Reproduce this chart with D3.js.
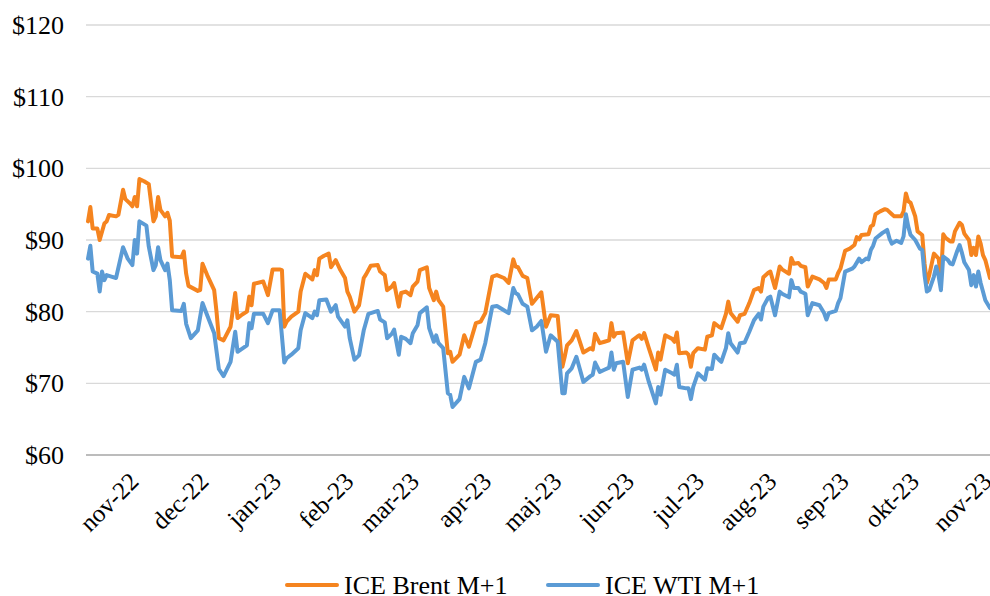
<!DOCTYPE html>
<html>
<head>
<meta charset="utf-8">
<script src="https://cdn.jsdelivr.net/npm/d3@7"></script>
<style>
    body { margin: 0; background: #fff; }
</style>
</head>
<body>
<svg id="chart" width="990" height="596"></svg>
<script>
// Daily closes (M+1) at its turning points
const brent = [
    ["2022-10-11", 92.6], ["2022-10-12", 94.6], ["2022-10-13", 91.6], ["2022-10-15", 91.6], ["2022-10-16", 90.0],
    ["2022-10-18", 92.3], ["2022-10-19", 92.6], ["2022-10-20", 93.5], ["2022-10-23", 93.3], ["2022-10-24", 93.5],
    ["2022-10-26", 97.0], ["2022-10-27", 95.7], ["2022-10-29", 95.1], ["2022-10-30", 94.7], ["2022-10-31", 96.0],
    ["2022-11-01", 94.7], ["2022-11-02", 98.5], ["2022-11-04", 98.2], ["2022-11-06", 97.8], ["2022-11-08", 92.6],
    ["2022-11-09", 93.3], ["2022-11-10", 96.0], ["2022-11-11", 94.2], ["2022-11-13", 93.3], ["2022-11-14", 93.8],
    ["2022-11-15", 92.7], ["2022-11-16", 87.7], ["2022-11-20", 87.6], ["2022-11-21", 88.4], ["2022-11-22", 85.3],
    ["2022-11-23", 83.6], ["2022-11-27", 82.9], ["2022-11-28", 83.0], ["2022-11-29", 86.7], ["2022-12-01", 85.1],
    ["2022-12-04", 83.0], ["2022-12-05", 80.0], ["2022-12-06", 76.3], ["2022-12-08", 76.0], ["2022-12-11", 77.9],
    ["2022-12-13", 82.6], ["2022-12-14", 79.1], ["2022-12-16", 79.6], ["2022-12-18", 80.0], ["2022-12-19", 82.1],
    ["2022-12-20", 80.9], ["2022-12-21", 83.9], ["2022-12-25", 84.2], ["2022-12-27", 82.3], ["2022-12-29", 85.9],
    ["2023-01-01", 85.9], ["2023-01-02", 85.8], ["2023-01-03", 77.9], ["2023-01-04", 78.6], ["2023-01-06", 79.3],
    ["2023-01-09", 80.0], ["2023-01-10", 82.8], ["2023-01-12", 85.3], ["2023-01-15", 84.5], ["2023-01-16", 85.8],
    ["2023-01-17", 85.1], ["2023-01-18", 87.4], ["2023-01-20", 87.8], ["2023-01-22", 88.1], ["2023-01-23", 86.2],
    ["2023-01-25", 87.2], ["2023-01-27", 85.8], ["2023-01-29", 84.7], ["2023-01-30", 82.8], ["2023-01-31", 82.1],
    ["2023-02-02", 80.0], ["2023-02-04", 80.9], ["2023-02-06", 84.7], ["2023-02-07", 85.2], ["2023-02-09", 86.4],
    ["2023-02-12", 86.5], ["2023-02-13", 85.6], ["2023-02-15", 85.1], ["2023-02-16", 83.0], ["2023-02-18", 83.5],
    ["2023-02-19", 84.0], ["2023-02-21", 80.7], ["2023-02-22", 82.6], ["2023-02-24", 82.8], ["2023-02-26", 82.3],
    ["2023-02-27", 83.5], ["2023-03-01", 84.2], ["2023-03-02", 85.8], ["2023-03-05", 86.2], ["2023-03-06", 83.3],
    ["2023-03-08", 81.6], ["2023-03-09", 82.8], ["2023-03-10", 81.6], ["2023-03-12", 80.7], ["2023-03-14", 74.2],
    ["2023-03-15", 74.4], ["2023-03-16", 73.0], ["2023-03-19", 74.0], ["2023-03-21", 76.7], ["2023-03-23", 75.1],
    ["2023-03-26", 78.4], ["2023-03-28", 78.6], ["2023-03-30", 79.8], ["2023-04-02", 84.9], ["2023-04-04", 85.1],
    ["2023-04-07", 84.7], ["2023-04-09", 84.0], ["2023-04-11", 87.3], ["2023-04-12", 86.3], ["2023-04-13", 86.2],
    ["2023-04-15", 85.0], ["2023-04-17", 84.7], ["2023-04-19", 81.1], ["2023-04-21", 81.9], ["2023-04-23", 82.7],
    ["2023-04-25", 77.9], ["2023-04-27", 79.5], ["2023-04-30", 79.4], ["2023-05-02", 72.3], ["2023-05-03", 73.7],
    ["2023-05-04", 75.3], ["2023-05-06", 76.0], ["2023-05-08", 77.3], ["2023-05-11", 74.3], ["2023-05-14", 74.9],
    ["2023-05-15", 74.7], ["2023-05-16", 76.9], ["2023-05-18", 75.6], ["2023-05-20", 75.8], ["2023-05-22", 76.0],
    ["2023-05-23", 78.4], ["2023-05-24", 76.5], ["2023-05-25", 77.0], ["2023-05-28", 77.1], ["2023-05-30", 72.8],
    ["2023-06-01", 76.0], ["2023-06-03", 76.5], ["2023-06-04", 76.7], ["2023-06-05", 76.2], ["2023-06-06", 77.0],
    ["2023-06-08", 74.9], ["2023-06-11", 71.9], ["2023-06-12", 74.3], ["2023-06-13", 73.3], ["2023-06-15", 76.7],
    ["2023-06-18", 76.2], ["2023-06-19", 75.8], ["2023-06-20", 77.1], ["2023-06-21", 74.2], ["2023-06-24", 74.3],
    ["2023-06-25", 74.0], ["2023-06-26", 72.3], ["2023-06-27", 74.2], ["2023-06-29", 74.9], ["2023-07-02", 74.7],
    ["2023-07-03", 76.5], ["2023-07-05", 76.7], ["2023-07-06", 78.4], ["2023-07-08", 77.9], ["2023-07-09", 77.7],
    ["2023-07-11", 79.7], ["2023-07-12", 81.4], ["2023-07-13", 79.8], ["2023-07-16", 78.6], ["2023-07-17", 79.5],
    ["2023-07-19", 79.7], ["2023-07-21", 81.2], ["2023-07-23", 83.0], ["2023-07-25", 83.3], ["2023-07-26", 82.8],
    ["2023-07-27", 84.8], ["2023-07-29", 85.4], ["2023-07-30", 85.6], ["2023-08-01", 83.3], ["2023-08-03", 86.3],
    ["2023-08-04", 85.9], ["2023-08-07", 85.3], ["2023-08-08", 87.5], ["2023-08-09", 86.7], ["2023-08-11", 86.8],
    ["2023-08-12", 86.4], ["2023-08-14", 86.2], ["2023-08-15", 83.5], ["2023-08-17", 84.9], ["2023-08-20", 84.5],
    ["2023-08-22", 84.0], ["2023-08-23", 83.3], ["2023-08-24", 84.5], ["2023-08-27", 84.5], ["2023-08-28", 85.4],
    ["2023-08-29", 86.0], ["2023-08-31", 88.5], ["2023-09-02", 88.8], ["2023-09-04", 89.3], ["2023-09-05", 90.4],
    ["2023-09-06", 90.1], ["2023-09-07", 90.7], ["2023-09-10", 90.8], ["2023-09-11", 91.9], ["2023-09-12", 92.1],
    ["2023-09-13", 93.6], ["2023-09-15", 94.0], ["2023-09-17", 94.3], ["2023-09-18", 94.2], ["2023-09-20", 93.6],
    ["2023-09-21", 93.3], ["2023-09-24", 93.3], ["2023-09-25", 94.0], ["2023-09-26", 96.5], ["2023-09-27", 95.4],
    ["2023-09-28", 95.2], ["2023-09-30", 93.3], ["2023-10-01", 91.2], ["2023-10-03", 90.7], ["2023-10-04", 86.7],
    ["2023-10-05", 84.0], ["2023-10-06", 85.1], ["2023-10-08", 88.1], ["2023-10-10", 87.4], ["2023-10-11", 84.7],
    ["2023-10-12", 90.8], ["2023-10-13", 90.3], ["2023-10-15", 89.8], ["2023-10-16", 89.8], ["2023-10-17", 91.2],
    ["2023-10-19", 92.4], ["2023-10-20", 92.1], ["2023-10-21", 90.9], ["2023-10-23", 90.0], ["2023-10-24", 87.9],
    ["2023-10-25", 88.9], ["2023-10-26", 87.9], ["2023-10-27", 90.5], ["2023-10-28", 89.5], ["2023-10-29", 87.9],
    ["2023-10-30", 87.2], ["2023-11-01", 84.7]
];

const wti = [
    ["2022-10-11", 87.4], ["2022-10-12", 89.2], ["2022-10-13", 85.6], ["2022-10-15", 85.3], ["2022-10-16", 82.8],
    ["2022-10-17", 85.6], ["2022-10-18", 84.4], ["2022-10-19", 85.1], ["2022-10-21", 84.9], ["2022-10-23", 84.7],
    ["2022-10-26", 89.0], ["2022-10-28", 87.4], ["2022-10-30", 86.5], ["2022-10-31", 90.0], ["2022-11-01", 88.1],
    ["2022-11-02", 92.6], ["2022-11-05", 92.0], ["2022-11-06", 89.1], ["2022-11-08", 85.8], ["2022-11-09", 86.5],
    ["2022-11-10", 89.0], ["2022-11-11", 87.2], ["2022-11-13", 85.8], ["2022-11-14", 86.7], ["2022-11-15", 84.4],
    ["2022-11-16", 80.2], ["2022-11-20", 80.1], ["2022-11-21", 81.1], ["2022-11-22", 78.3], ["2022-11-24", 76.3],
    ["2022-11-27", 77.4], ["2022-11-29", 81.2], ["2022-12-01", 79.5], ["2022-12-04", 77.0], ["2022-12-06", 72.0],
    ["2022-12-08", 71.0], ["2022-12-11", 73.0], ["2022-12-13", 77.2], ["2022-12-14", 74.4], ["2022-12-18", 75.3],
    ["2022-12-19", 78.4], ["2022-12-20", 77.7], ["2022-12-21", 79.7], ["2022-12-25", 79.7], ["2022-12-27", 78.4],
    ["2022-12-29", 80.2], ["2023-01-01", 80.2], ["2023-01-03", 72.9], ["2023-01-04", 73.5], ["2023-01-06", 74.0],
    ["2023-01-09", 74.9], ["2023-01-10", 77.4], ["2023-01-12", 79.8], ["2023-01-15", 79.1], ["2023-01-16", 80.0],
    ["2023-01-17", 79.5], ["2023-01-18", 81.6], ["2023-01-21", 81.7], ["2023-01-23", 80.0], ["2023-01-25", 80.9],
    ["2023-01-26", 79.3], ["2023-01-29", 77.9], ["2023-01-30", 78.8], ["2023-01-31", 76.3], ["2023-02-02", 73.3],
    ["2023-02-04", 73.9], ["2023-02-06", 77.4], ["2023-02-08", 79.7], ["2023-02-12", 80.1], ["2023-02-13", 78.9],
    ["2023-02-15", 78.5], ["2023-02-16", 76.3], ["2023-02-18", 76.9], ["2023-02-19", 77.5], ["2023-02-21", 74.0],
    ["2023-02-22", 76.5], ["2023-02-24", 76.2], ["2023-02-26", 75.6], ["2023-02-27", 77.0], ["2023-03-01", 78.1],
    ["2023-03-02", 79.8], ["2023-03-05", 80.6], ["2023-03-06", 77.7], ["2023-03-08", 75.8], ["2023-03-09", 76.7],
    ["2023-03-10", 75.6], ["2023-03-12", 74.9], ["2023-03-14", 68.6], ["2023-03-15", 68.4], ["2023-03-16", 66.7],
    ["2023-03-19", 67.8], ["2023-03-21", 70.9], ["2023-03-23", 69.3], ["2023-03-26", 73.0], ["2023-03-28", 73.3],
    ["2023-03-30", 75.6], ["2023-04-02", 80.7], ["2023-04-04", 80.8], ["2023-04-07", 80.2], ["2023-04-09", 79.8],
    ["2023-04-11", 83.3], ["2023-04-12", 82.6], ["2023-04-13", 82.4], ["2023-04-15", 81.1], ["2023-04-17", 80.7],
    ["2023-04-19", 77.4], ["2023-04-21", 77.9], ["2023-04-23", 78.7], ["2023-04-25", 74.4], ["2023-04-27", 76.7],
    ["2023-04-30", 75.8], ["2023-05-02", 68.6], ["2023-05-03", 68.6], ["2023-05-04", 71.4], ["2023-05-06", 72.1],
    ["2023-05-08", 73.7], ["2023-05-11", 70.2], ["2023-05-14", 71.0], ["2023-05-15", 71.2], ["2023-05-16", 72.9],
    ["2023-05-18", 71.6], ["2023-05-20", 71.9], ["2023-05-22", 72.2], ["2023-05-23", 74.3], ["2023-05-24", 71.9],
    ["2023-05-25", 72.8], ["2023-05-28", 73.0], ["2023-05-30", 68.1], ["2023-06-01", 71.9], ["2023-06-04", 72.2],
    ["2023-06-05", 71.9], ["2023-06-06", 72.6], ["2023-06-08", 70.2], ["2023-06-11", 67.2], ["2023-06-12", 69.5],
    ["2023-06-13", 68.4], ["2023-06-15", 71.9], ["2023-06-18", 71.4], ["2023-06-19", 71.2], ["2023-06-20", 72.6],
    ["2023-06-21", 69.5], ["2023-06-24", 69.3], ["2023-06-25", 69.3], ["2023-06-26", 67.8], ["2023-06-27", 69.5],
    ["2023-06-29", 71.4], ["2023-07-02", 70.5], ["2023-07-03", 72.1], ["2023-07-05", 72.0], ["2023-07-06", 74.0],
    ["2023-07-08", 73.3], ["2023-07-09", 73.0], ["2023-07-11", 74.9], ["2023-07-12", 77.0], ["2023-07-13", 75.6],
    ["2023-07-16", 74.3], ["2023-07-17", 75.6], ["2023-07-19", 75.7], ["2023-07-21", 77.2], ["2023-07-23", 78.8],
    ["2023-07-25", 79.7], ["2023-07-26", 78.9], ["2023-07-27", 80.7], ["2023-07-29", 81.9], ["2023-07-30", 82.1],
    ["2023-08-01", 79.5], ["2023-08-03", 82.8], ["2023-08-04", 82.5], ["2023-08-07", 82.0], ["2023-08-08", 84.4],
    ["2023-08-09", 83.3], ["2023-08-11", 83.3], ["2023-08-12", 82.8], ["2023-08-14", 82.5], ["2023-08-15", 79.5],
    ["2023-08-17", 81.2], ["2023-08-20", 80.9], ["2023-08-22", 79.8], ["2023-08-23", 78.9], ["2023-08-24", 79.8],
    ["2023-08-27", 80.1], ["2023-08-28", 81.2], ["2023-08-29", 81.9], ["2023-08-31", 85.6], ["2023-09-03", 86.0],
    ["2023-09-04", 86.3], ["2023-09-06", 87.4], ["2023-09-07", 86.9], ["2023-09-09", 87.4], ["2023-09-10", 87.3],
    ["2023-09-11", 88.6], ["2023-09-12", 89.2], ["2023-09-13", 90.2], ["2023-09-16", 91.0], ["2023-09-18", 91.4],
    ["2023-09-19", 90.2], ["2023-09-20", 89.5], ["2023-09-22", 89.9], ["2023-09-24", 89.6], ["2023-09-25", 90.5],
    ["2023-09-26", 93.6], ["2023-09-27", 91.9], ["2023-09-28", 90.7], ["2023-09-30", 90.0], ["2023-10-02", 88.8],
    ["2023-10-03", 88.6], ["2023-10-04", 85.1], ["2023-10-05", 82.8], ["2023-10-06", 83.0], ["2023-10-08", 84.9],
    ["2023-10-09", 86.3], ["2023-10-10", 85.0], ["2023-10-11", 83.0], ["2023-10-12", 87.7], ["2023-10-14", 87.2],
    ["2023-10-15", 86.7], ["2023-10-16", 86.6], ["2023-10-18", 88.5], ["2023-10-19", 89.3], ["2023-10-20", 88.2],
    ["2023-10-21", 86.9], ["2023-10-23", 85.8], ["2023-10-24", 83.7], ["2023-10-25", 85.1], ["2023-10-26", 83.5],
    ["2023-10-27", 85.6], ["2023-10-28", 84.0], ["2023-10-30", 81.6], ["2023-11-01", 80.5]
];

const monthDates = ["2022-11-01", "2022-12-01", "2023-01-01", "2023-02-01", "2023-03-01", "2023-04-01", "2023-05-01",
    "2023-06-01", "2023-07-01", "2023-08-01", "2023-09-01", "2023-10-01", "2023-11-01"];
const monthLabels = ["nov-22", "dec-22", "jan-23", "feb-23", "mar-23", "apr-23", "maj-23",
    "jun-23", "jul-23", "aug-23", "sep-23", "okt-23", "nov-23"];
const yTicks = [60, 70, 80, 90, 100, 110, 120];
const seriesNames = ["ICE Brent M+1", "ICE WTI M+1"];
const colors = ["#F5841F", "#5B9BD5"];

const serif = "Liberation Serif, DejaVu Serif, Times, serif";

let svg = d3.select("#chart")
    .attr("font-family", serif);
let parse = d3.timeParse("%Y-%m-%d");

let x = d3.scaleTime()
    .domain([parse("2022-10-11"), parse("2023-11-01")])
    .range([88, 990]);

let y = d3.scaleLinear()
    .domain([60, 120])
    .range([455, 25]);

// gridlines
svg.append("g")
    .selectAll("line")
    .data(yTicks)
    .enter().append("line")
    .attr("x1", 86)
    .attr("x2", 990)
    .attr("y1", d => y(d))
    .attr("y2", d => y(d))
    .style("stroke", d => d === 60 ? "#a6a6a6" : "#d9d9d9")
    .style("stroke-width", d => d === 60 ? 1.5 : 1.3);

// y labels
svg.append("g")
    .selectAll("text")
    .data(yTicks)
    .enter().append("text")
    .attr("x", 64)
    .attr("y", d => y(d))
    .attr("dy", "0.35em")
    .attr("font-family", serif)
    .attr("text-anchor", "end")
    .attr("font-size", 26)
    .text(d => "$" + d);

// month labels, rotated
svg.append("g")
    .selectAll("text")
    .data(monthDates)
    .enter().append("text")
    .attr("transform", d => `translate(${x(parse(d)) + 3}, 483) rotate(-45)`)
    .attr("font-family", serif)
    .attr("text-anchor", "end")
    .attr("font-size", 25)
    .text((d, i) => monthLabels[i]);

let line = d3.line()
    .x(d => x(parse(d[0])))
    .y(d => y(d[1]));

[brent, wti].forEach((series, i) => {
    svg.append("path")
        .datum(series)
        .attr("d", line)
        .style("fill", "none")
        .style("stroke", colors[i])
        .style("stroke-width", 4)
        .style("stroke-linejoin", "round")
        .style("stroke-linecap", "round");
});

// legend
const legendX = [287, 548];
seriesNames.forEach((name, i) => {
    svg.append("line")
        .attr("x1", legendX[i])
        .attr("x2", legendX[i] + 50)
        .attr("y1", 585)
        .attr("y2", 585)
        .style("stroke", colors[i])
        .style("stroke-width", 4)
        .style("stroke-linecap", "round");

    svg.append("text")
        .attr("x", legendX[i] + 57)
        .attr("y", 594)
        .attr("font-family", serif)
        .attr("font-size", 26)
        .text(name);
});
</script>
</body>
</html>
